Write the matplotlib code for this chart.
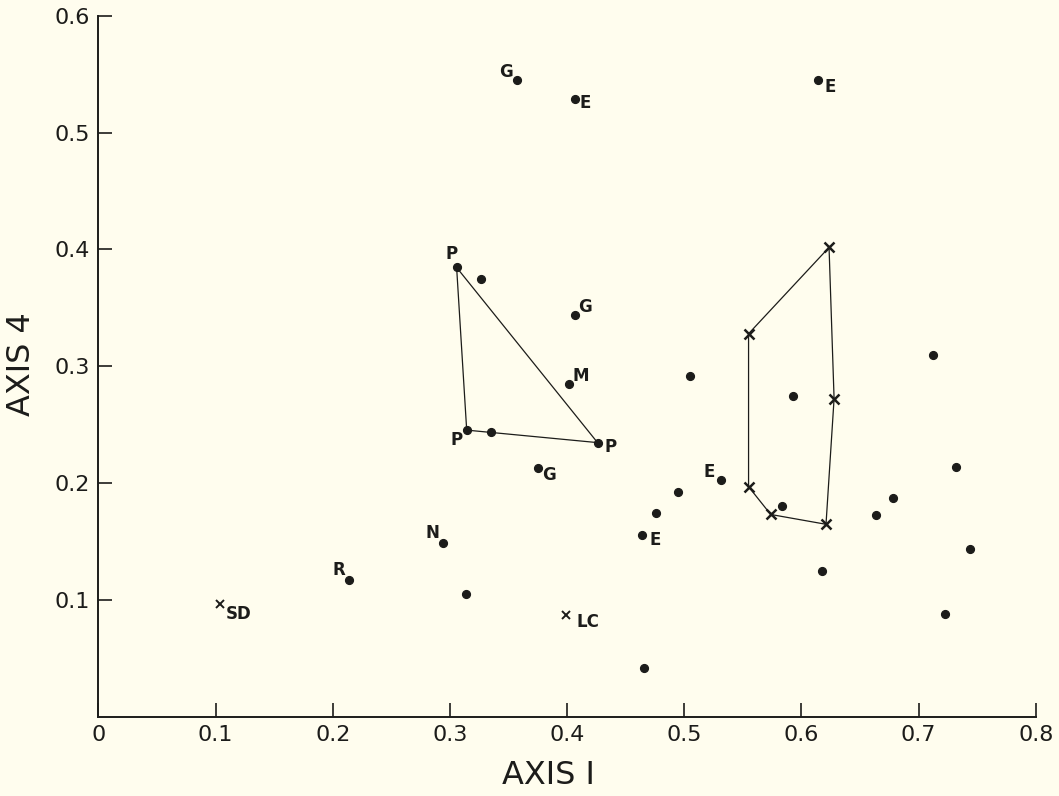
import matplotlib.pyplot as plt

# filled dots: axis 1 / axis 4 scores
dot_x = [0.357, 0.407, 0.6145, 0.3057, 0.3267, 0.4064, 0.4014, 0.3143, 0.3353, 0.426,
         0.3753, 0.2943, 0.2137, 0.3134, 0.5049, 0.5932, 0.5315, 0.4945, 0.4757, 0.4637,
         0.4656, 0.5835, 0.6177, 0.6635, 0.678, 0.7127, 0.7321, 0.7442, 0.7228]
dot_y = [0.545, 0.529, 0.545, 0.3845, 0.3745, 0.3435, 0.2847, 0.2453, 0.2433, 0.2346,
         0.2127, 0.1486, 0.117, 0.105, 0.2912, 0.2742, 0.2023, 0.1921, 0.1746, 0.1559,
         0.0421, 0.1803, 0.1243, 0.1723, 0.1873, 0.31, 0.2133, 0.1435, 0.0876]
dot_lab = ['G', 'E', 'E', 'P', '', 'G', 'M', 'P', '', 'P',
           'G', 'N', 'R', '', '', '', 'E', '', '', 'E',
           '', '', '', '', '', '', '', '', '']

# single crosses
cross_x = [0.1037, 0.3994]
cross_y = [0.0964, 0.0871]
cross_lab = ['SD', 'LC']

# convex hull of the P group (dots)
p_hull_x = [0.3057, 0.3143, 0.426]
p_hull_y = [0.3845, 0.2453, 0.2346]

# hull of the crosses group
x_hull_x = [0.6236, 0.5549, 0.5549, 0.5738, 0.621, 0.6279]
x_hull_y = [0.4017, 0.3278, 0.1969, 0.1731, 0.1647, 0.2722]

# label offsets in pixels (dx, dy)
dot_off = [(-11, 8), (10, -4), (12, -7), (-5, 13), None, (10, 8), (12, 8), (-10, -10), None, (13, -4),
           (11, -7), (-11, 10), (-10, 10), None, None, None, (-12, 8), None, None, (13, -5),
           None, None, None, None, None, None, None, None, None]
cross_off = [(19, -10), (22, -7)]

ink = '#1c1c1a'
bg = '#fffdee'

plt.rcParams['font.family'] = ['DejaVu Sans']
fig = plt.figure(figsize=(10.59, 7.96), dpi=100, facecolor=bg)
ax = fig.add_axes([0.093, 0.0996, 0.885, 0.8807])
ax.set_facecolor(bg)

ax.plot(p_hull_x + p_hull_x[:1], p_hull_y + p_hull_y[:1], color=ink, lw=0.9, zorder=1)
ax.plot(x_hull_x + x_hull_x[:1], x_hull_y + x_hull_y[:1], color=ink, lw=0.9, zorder=1)

ax.plot(dot_x, dot_y, 'o', color=ink, ms=5.6, zorder=3)
ax.plot(x_hull_x, x_hull_y, 'x', color=ink, ms=7, mew=1.8, zorder=3)
ax.plot(cross_x, cross_y, 'x', color=ink, ms=6, mew=1.4, zorder=3)

for x, y, t, o in zip(dot_x, dot_y, dot_lab, dot_off):
    if t:
        ax.annotate(t, (x, y), xytext=o, textcoords='offset pixels', ha='center', va='center',
                    fontsize=12, fontweight='bold', color=ink)
for x, y, t, o in zip(cross_x, cross_y, cross_lab, cross_off):
    ax.annotate(t, (x, y), xytext=o, textcoords='offset pixels', ha='center', va='center',
                fontsize=12, fontweight='bold', color=ink)

ax.set_xlim(0, 0.8)
ax.set_ylim(0, 0.6)
ax.set_xticks([0, 0.1, 0.2, 0.3, 0.4, 0.5, 0.6, 0.7, 0.8])
ax.set_xticklabels(['0', '0.1', '0.2', '0.3', '0.4', '0.5', '0.6', '0.7', '0.8'])
ax.set_yticks([0.1, 0.2, 0.3, 0.4, 0.5, 0.6])
ax.set_yticklabels(['0.1', '0.2', '0.3', '0.4', '0.5', '0.6'])
ax.spines['top'].set_visible(False)
ax.spines['right'].set_visible(False)
for s in ['left', 'bottom']:
    ax.spines[s].set_linewidth(1.4)
    ax.spines[s].set_color(ink)
ax.tick_params(direction='in', length=10, width=1.2, color=ink, labelcolor=ink,
               labelsize=16, pad=6)

fig.text(548 / 1059, 1 - 776 / 796, 'AXIS I', ha='center', va='center', fontsize=23, color=ink)
fig.text(22 / 1059, 1 - 364 / 796, 'AXIS 4', ha='center', va='center', fontsize=23,
         rotation=90, color=ink)

plt.savefig('out.png', dpi=100, facecolor=bg)
